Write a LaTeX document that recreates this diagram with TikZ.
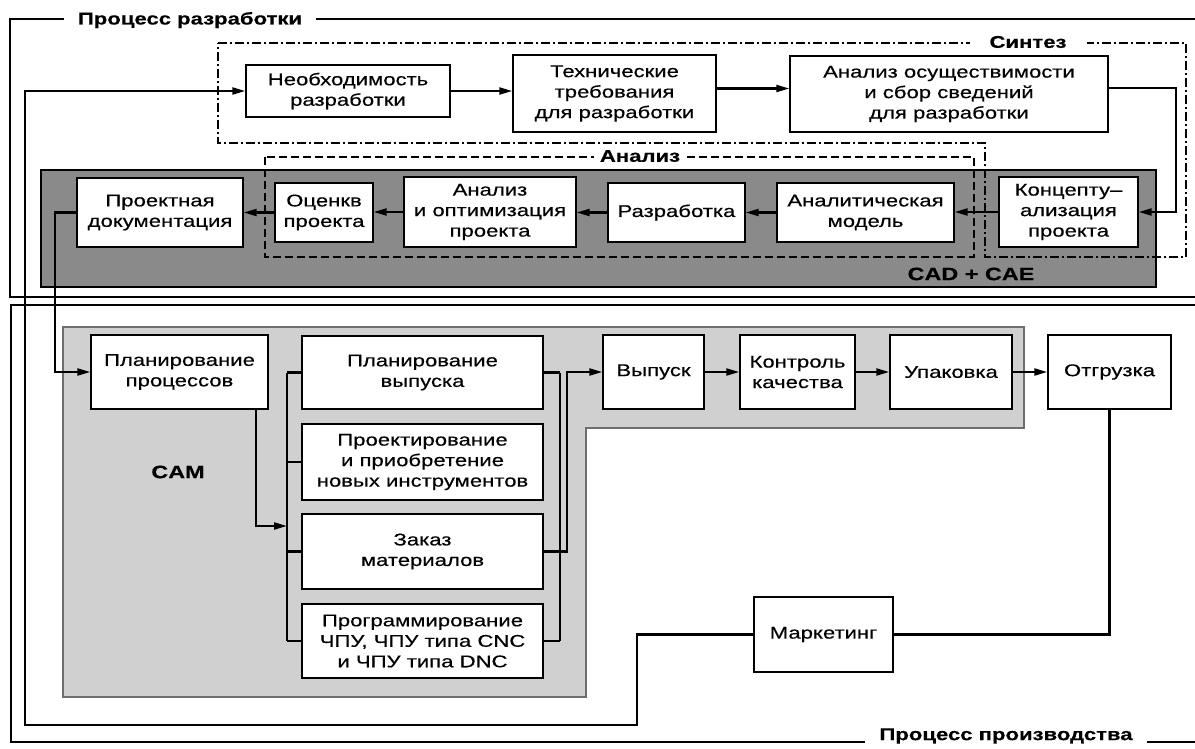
\documentclass[tikz,border=0pt]{standalone}
\usepackage{fontspec}
\setmainfont[FakeStretch=1.3,FakeBold=0.4]{Liberation Sans}
\usetikzlibrary{arrows.meta,calc}
\definecolor{bandfill}{RGB}{138,138,138}
\definecolor{camfill}{RGB}{208,208,208}
\definecolor{camline}{RGB}{110,110,110}
\begin{document}
\begin{tikzpicture}[x=1pt,y=-1pt,
  box/.style={draw, line width=1.4pt, fill=white, align=center, inner sep=1pt,
              font=\fontsize{17}{20.5}\selectfont},
  conn/.style={line width=2.2pt},
  arr/.style={line width=2.2pt, -{Triangle[length=13pt,width=7pt]}},
  lbl/.style={font=\bfseries\fontsize{17}{20}\selectfont, fill=white, inner ysep=3pt, inner xsep=14pt},
  glbl/.style={font=\bfseries\fontsize{18}{20}\selectfont, inner sep=1pt},
  frame/.style={line width=2.2pt},
  synth/.style={line width=1.4pt, dash pattern=on 9pt off 3pt on 2pt off 3pt},
  anal/.style={line width=1.4pt, dash pattern=on 8pt off 4pt}]
\fill[white] (0,0) rectangle (1195,748);
\useasboundingbox (0,0) rectangle (1195,748);

% outer frames
\draw[frame] (1230,19) -- (10,19) -- (10,297) -- (1230,297);
\draw[frame] (1230,305) -- (11,305) -- (11,742) -- (1230,742);

% CAD + CAE band
\draw[line width=1.6pt, fill=bandfill] (41,170) rectangle (1156,287);
% CAM region
\draw[camline, line width=1.2pt, fill=camfill]
  (63,327) -- (1024,327) -- (1024,428) -- (586,428) -- (586,697) -- (63,697) -- cycle;

% Synthesis and analysis frames
\draw[synth] (218,43) -- (1186,43) -- (1186,257) -- (985,257) -- (985,143) -- (218,143) -- cycle;
\draw[anal] (265,157) rectangle (974,257);

% nodes: development
\node[box, minimum width=204pt, minimum height=52pt] (neo) at (348,91) {Необходимость\\разработки};
\node[box, minimum width=203pt, minimum height=77pt] (tech) at (614.5,93.5) {Технические\\требования\\для разработки};
\node[box, minimum width=318pt, minimum height=76pt] (feas) at (949,94) {Анализ осуществимости\\и сбор сведений\\для разработки};
\node[box, minimum width=139pt, minimum height=70pt] (conc) at (1068.5,212) {Концепту–\\ализация\\проекта};
\node[box, minimum width=177pt, minimum height=59pt] (model) at (865.5,212.5) {Аналитическая\\модель};
\node[box, minimum width=137pt, minimum height=59pt] (dev) at (676.5,212.5) {Разработка};
\node[box, minimum width=172pt, minimum height=70pt] (opt) at (490,212) {Анализ\\и оптимизация\\проекта};
\node[box, minimum width=98pt, minimum height=59pt] (eval) at (324,212.5) {Оценкв\\проекта};
\node[box, minimum width=166pt, minimum height=69pt] (doc) at (160,212.5) {Проектная\\документация};

% nodes: production
\node[box, minimum width=177pt, minimum height=74pt] (pproc) at (179.5,372) {Планирование\\процессов};
\node[box, minimum width=241pt, minimum height=73pt] (pvyp) at (422.5,372.5) {Планирование\\выпуска};
\node[box, minimum width=241pt, minimum height=76pt] (proj) at (422.5,462) {Проектирование\\и приобретение\\новых инструментов};
\node[box, minimum width=241pt, minimum height=75pt] (zakaz) at (422.5,551.5) {Заказ\\материалов};
\node[box, minimum width=241pt, minimum height=74pt] (prog) at (422.5,641) {Программирование\\ЧПУ, ЧПУ типа CNC\\и ЧПУ типа DNC};
\node[box, minimum width=101pt, minimum height=74pt] (vyp) at (653.5,372) {Выпуск};
\node[box, minimum width=115pt, minimum height=74pt] (kontr) at (797.5,372) {Контроль\\качества};
\node[box, minimum width=122pt, minimum height=74pt] (upak) at (951,372) {Упаковка};
\node[box, minimum width=123pt, minimum height=74pt] (otgr) at (1109.5,372) {Отгрузка};
\node[box, minimum width=139pt, minimum height=75pt] (mark) at (823.5,634.5) {Маркетинг};

% coordinates for bends
\coordinate (fr) at (1176,150);
\coordinate (dl) at (55,300);
\coordinate (pp1) at (256,526);
\coordinate (lbT) at (287,372.5);
\coordinate (lbB) at (287,641);
\coordinate (rbT) at (560,372.5);
\coordinate (rbB) at (560,641);
\coordinate (rb2) at (567,460);
\coordinate (m1) at (637,725);
\coordinate (m2) at (25,91);

% connectors: development
\draw[arr] (neo.east) -- (neo.east -| tech.west);
\draw[arr] ([yshift=5pt]tech.east) -- ([yshift=5pt]tech.east -| feas.west);
\draw[arr] ([yshift=6pt]feas.east) -| (fr) |- (conc.east);
\draw[arr] (conc.west) -- (conc.west -| model.east);
\draw[arr] (model.west) -- (model.west -| dev.east);
\draw[arr] (dev.west) -- (dev.west -| opt.east);
\draw[arr] (opt.west) -- (opt.west -| eval.east);
\draw[arr] (eval.west) -- (eval.west -| doc.east);
\draw[arr] (doc.west) -| (dl) |- (pproc.west);

% connectors: production
\draw[arr] (pproc.south -| pp1) -- (pp1) -- (pp1 -| lbT);
\draw[conn] (lbT) -- (lbB);
\draw[conn] (pvyp.west) -- (pvyp.west -| lbT);
\draw[conn] (proj.west) -- (proj.west -| lbT);
\draw[conn] (zakaz.west) -- (zakaz.west -| lbT);
\draw[conn] (prog.west) -- (prog.west -| lbT);
\draw[conn] (rbT) -- (rbB);
\draw[conn] (pvyp.east) -- (pvyp.east -| rbT);
\draw[conn] (zakaz.east) -- (zakaz.east -| rbT);
\draw[conn] (prog.east) -- (prog.east -| rbT);
\draw[arr] (zakaz.east) -| (rb2) |- (vyp.west);
\draw[arr] (vyp.east) -- (vyp.east -| kontr.west);
\draw[arr] (kontr.east) -- (kontr.east -| upak.west);
\draw[arr] (upak.east) -- (upak.east -| otgr.west);
\draw[conn] (otgr.south) |- (mark.east);
\draw[arr] (mark.west) -| (m1) -| (m2) -- (neo.west);

% labels
\node[lbl] (tl) at (190,20) {Процесс разработки};
\node[lbl] (bl) at (1006,736) {Процесс производства};
\node[lbl, inner xsep=20pt] (sl) at (1028,42) {Синтез};
\node[lbl, inner xsep=6pt] (al) at (640,156) {Анализ};
\node[glbl] (caml) at (178,472) {CAM};
\node[glbl] (cadl) at (971,274) {CAD + CAE};
\end{tikzpicture}
\end{document}
